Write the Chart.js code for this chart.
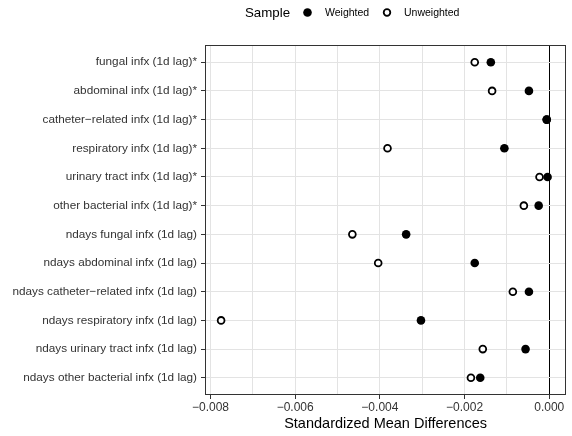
<!DOCTYPE html>
<html>
<head>
<meta charset="utf-8">
<script src="https://cdn.jsdelivr.net/npm/chart.js@4"></script>
<style>
  html, body { margin: 0; padding: 0; background: #fff; }
  #wrap { width: 572px; height: 436px; }
</style>
</head>
<body>
<div id="wrap"><canvas id="smdChart" width="572" height="436"></canvas></div>
<script>
const categories = [
  "fungal infx (1d lag)*",
  "abdominal infx (1d lag)*",
  "catheter\u2212related infx (1d lag)*",
  "respiratory infx (1d lag)*",
  "urinary tract infx (1d lag)*",
  "other bacterial infx (1d lag)*",
  "ndays fungal infx (1d lag)",
  "ndays abdominal infx (1d lag)",
  "ndays catheter\u2212related infx (1d lag)",
  "ndays respiratory infx (1d lag)",
  "ndays urinary tract infx (1d lag)",
  "ndays other bacterial infx (1d lag)"
];
const weighted = [-0.00138, -0.00048, -0.00006, -0.00106, -0.00004, -0.00025,
  -0.00338, -0.00176, -0.00048, -0.00303, -0.00056, -0.00163];
const unweighted = [-0.00176, -0.00135, -0.00006, -0.00382, -0.00023, -0.00060,
  -0.00465, -0.00404, -0.00086, -0.00775, -0.00157, -0.00185];
const xTicks = [-0.008, -0.007, -0.006, -0.005, -0.004, -0.003, -0.002, -0.001, 0];
const xLabels = [-0.008, -0.006, -0.004, -0.002, 0];

const fontFamily = "'Liberation Sans', Arial, Helvetica, sans-serif";
const gridGrey = "#e3e3e3";

function fmt(v) {
  let s = Math.abs(v).toFixed(3);
  return v < 0 ? "\u2212" + s : s;
}

const toPoints = vals => vals.map((v, i) => ({ x: v, y: i + 1 }));

// panel border + legend on top
const extras = {
  id: "extras",
  afterDraw(chart) {
    const ctx = chart.ctx;
    const a = chart.chartArea;
    ctx.save();
    ctx.strokeStyle = "#333";
    ctx.lineWidth = 1;
    ctx.strokeRect(Math.round(a.left) + 0.5, Math.round(a.top) + 0.5,
      Math.round(a.right - a.left) - 1, Math.round(a.bottom - a.top) - 1);

    ctx.fillStyle = "#000";
    ctx.textBaseline = "middle";
    ctx.font = "13.3px " + fontFamily;
    ctx.fillText("Sample", 245, 13);
    ctx.beginPath();
    ctx.arc(307.5, 12.5, 4.3, 0, Math.PI * 2);
    ctx.fill();
    ctx.font = "10.5px " + fontFamily;
    ctx.fillText("Weighted", 325, 13);
    ctx.beginPath();
    ctx.arc(387, 12.5, 3.3, 0, Math.PI * 2);
    ctx.fillStyle = "#fff";
    ctx.fill();
    ctx.lineWidth = 1.8;
    ctx.strokeStyle = "#000";
    ctx.stroke();
    ctx.fillStyle = "#000";
    ctx.fillText("Unweighted", 404, 13);
    ctx.restore();
  }
};

new Chart(document.getElementById("smdChart"), {
  type: "scatter",
  data: {
    datasets: [{
      label: "Weighted",
      data: toPoints(weighted),
      backgroundColor: "#000",
      borderColor: "#000",
      pointRadius: 4.3,
      borderWidth: 0
    }, {
      label: "Unweighted",
      data: toPoints(unweighted),
      backgroundColor: "#fff",
      borderColor: "#000",
      pointRadius: 3.4,
      borderWidth: 1.8
    }]
  },
  plugins: [extras],
  options: {
    responsive: false,
    animation: false,
    layout: { padding: { top: 45, right: 4, left: 0, bottom: 0 } },
    plugins: {
      legend: { display: false },
      tooltip: { enabled: false }
    },
    scales: {
      x: {
        type: "linear",
        min: -0.00813,
        max: 0.0004,
        afterBuildTicks: s => { s.ticks = xTicks.map(v => ({ value: v })); },
        afterFit: s => { s.height = 41; },
        border: { display: false },
        grid: {
          color: c => (c.tick && Math.abs(c.tick.value) < 1e-9) ? "#000" : gridGrey,
          lineWidth: 1,
          tickLength: 4,
          tickColor: c => xLabels.some(v => Math.abs(v - c.tick.value) < 1e-9) ? "#333" : "rgba(0,0,0,0)"
        },
        ticks: {
          autoSkip: false,
          maxRotation: 0,
          padding: 1,
          color: "#333",
          font: { family: fontFamily, size: 12 },
          callback: v => xLabels.some(l => Math.abs(l - v) < 1e-9) ? fmt(v) : ""
        },
        title: {
          display: true,
          text: "Standardized Mean Differences",
          color: "#000",
          font: { family: fontFamily, size: 14.5 },
          padding: { top: 2, bottom: 3 }
        }
      },
      y: {
        type: "linear",
        reverse: true,
        min: 0.4,
        max: 12.6,
        afterBuildTicks: s => { s.ticks = categories.map((c, i) => ({ value: i + 1 })); },
        afterFit: s => { s.width = 205; },
        border: { display: false },
        grid: {
          color: gridGrey,
          lineWidth: 1,
          tickLength: 4,
          tickColor: "#333"
        },
        ticks: {
          autoSkip: false,
          padding: 4,
          color: "#333",
          font: { family: fontFamily, size: 11.75 },
          callback: v => categories[Math.round(v) - 1]
        }
      }
    }
  }
});
</script>
</body>
</html>
